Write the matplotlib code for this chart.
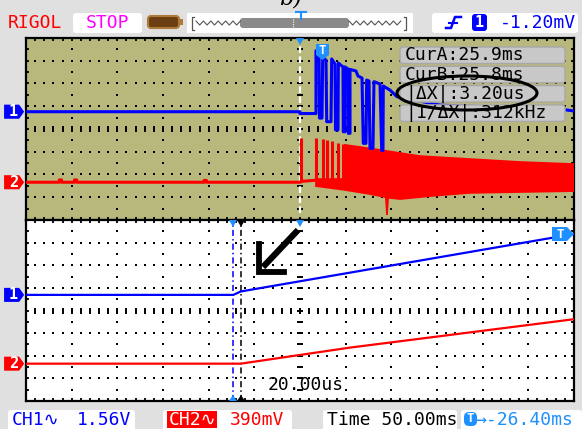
import numpy as np
import matplotlib
matplotlib.use('Agg')
from matplotlib import pyplot as plt
from matplotlib.patches import FancyBboxPatch, Polygon, Ellipse


W, H = 582, 429
X0, X1 = 26, 574            # screen left / right edge (px)
Y_TOP, Y_MID, Y_BOT = 38, 220, 401

# ---- main window, in divisions (12 x 8) ----
ch1_main_x = [-6, 0, 0, 0.35, 0.35, 0.416, 0.427, 0.482, 0.497, 0.569, 0.585, 0.679,
              0.694, 0.766, 0.777, 0.832, 0.839, 0.942, 0.948, 0.985, 0.985, 1.051,
              1.058, 1.095, 1.095, 1.226, 1.270, 1.358, 1.386, 1.445, 1.460, 1.511,
              1.533, 1.598, 1.620, 1.752, 1.789, 1.817, 1.824, 1.971, 2.124, 3.065,
              5.824, 6.0]
ch1_main_y = [0.76, 0.76, 0.68, 0.68, 3.44, 3.43, 0.48, 0.48, 3.16, 3.03, 0.32, 0.32,
              3.08, 2.86, -0.04, -0.04, 2.90, 2.73, -0.12, -0.12, 2.73, 2.64,
              -0.19, -0.19, 2.62, 2.55, 2.33, 2.24, -0.63, -0.63, 2.15, 2.11,
              -0.85, -0.85, 2.08, 1.98, -0.95, -0.95, 1.89, 1.71, 1.42, 1.05,
              0.84, 0.79]

ch2_main_x = [-6, -5.27, -5.27, -5.22, -5.22, -4.94, -4.94, -4.89, -4.89, -2.10, -2.10,
              -2.05, -2.05, 0, 0.05, 0.35]
ch2_main_y = [-2.34, -2.34, -2.24, -2.24, -2.34, -2.34, -2.24, -2.24, -2.34, -2.34, -2.26,
              -2.26, -2.34, -2.34, -2.30, -2.25]
ch2_spike_x = [0.02, 0.35, 0.497, 0.585, 0.694, 0.832, 0.94]
ch2_spike_top = [-0.40, -0.40, -0.44, -0.48, -0.53, -0.62, -0.66]
ch2_upper_x = [0.35, 0.96, 0.985, 1.31, 1.75, 2.63, 3.72, 4.82, 6.0]
ch2_upper_y = [-2.2, -2.2, -0.70, -0.79, -0.92, -1.19, -1.32, -1.45, -1.54]
ch2_lower_x = [0.35, 0.985, 1.53, 1.88, 1.905, 1.93, 2.19, 2.85, 3.72, 4.82, 6.0]
ch2_lower_y = [-2.51, -2.68, -2.86, -3.0, -3.78, -3.02, -3.08, -2.95, -2.81, -2.77, -2.73]

# ---- delayed (zoomed) window ----
ch1_zoom_x = [-6, -1.46, -1.30, 6.0]
ch1_zoom_y = [0.69, 0.69, 0.84, 3.38]
ch2_zoom_x = [-6, -1.30, 1.095, 5.98]
ch2_zoom_y = [-2.35, -2.35, -1.64, -0.39]
cur_a, cur_b = -1.46, -1.30

cursor_lines = ['CurA:25.9ms', 'CurB:25.8ms', '|\u0394X|:3.20us', '|1/\u0394X|:312kHz']

OLIVE = '#b8b87c'
GREY = '#e0e0e0'
BLUE = '#0000ff'
RED = '#ff0000'
MONO = ['DejaVu Sans Mono', 'DejaVu Sans']
FS = 13

fig = plt.figure(figsize=(W / 100, H / 100), dpi=100, facecolor=GREY)

bg = fig.add_axes([0, 0, 1, 1], zorder=0)
bg.set_xlim(0, W)
bg.set_ylim(H, 0)
bg.axis('off')


def rbox(ax, x, y, w, h, fc, ec='none', r=3, lw=1, z=1):
    ax.add_patch(FancyBboxPatch((x, y), w, h, boxstyle='round,pad=0,rounding_size=%g' % r,
                                fc=fc, ec=ec, lw=lw, zorder=z))


def grid(ax):
    fx = np.arange(-6, 6.001, 0.2)
    hy = np.arange(-4, 4.001, 0.5)
    for r in range(-3, 4):
        if r == 0:
            ax.plot(fx, np.zeros_like(fx), ls='none', marker='|', ms=4.3, mew=1.4, color='k', zorder=1)
        else:
            ax.plot(fx, np.full_like(fx, r), ls='none', marker='s', ms=1.5, mew=0, color='k', zorder=1)
    for c in range(-5, 6):
        if c == 0:
            ax.plot(np.zeros_like(hy), hy, ls='none', marker='_', ms=4.3, mew=1.4, color='k', zorder=1)
        else:
            ax.plot(np.full_like(hy, c), hy, ls='none', marker='s', ms=1.5, mew=0, color='k', zorder=1)
    for yy in (-4, 4):
        ax.plot(fx, np.full_like(fx, yy), ls='none', marker='|', ms=5, mew=1.3, color='k', zorder=1)
    for xx in (-6, 6):
        ax.plot(np.full_like(hy, xx), hy, ls='none', marker='_', ms=5, mew=1.3, color='k', zorder=1)


def panel(y0, y1, color):
    ax = fig.add_axes([X0 / W, 1 - y1 / H, (X1 - X0) / W, (y1 - y0) / H], zorder=1)
    ax.set_xlim(-6, 6)
    ax.set_ylim(-4, 4)
    ax.set_facecolor(color)
    ax.set_xticks([])
    ax.set_yticks([])
    for s in ax.spines.values():
        s.set_linewidth(1.6)
        s.set_color('k')
    grid(ax)
    return ax


def ch_marker(ax, y, label, color):
    ax.add_patch(Polygon([(-6.48, y - 0.31), (-6.15, y - 0.31), (-6.04, y),
                          (-6.15, y + 0.31), (-6.48, y + 0.31)],
                         closed=True, fc=color, ec='none', clip_on=False, zorder=5))
    ax.text(-6.28, y, label, color='white', fontsize=11, fontweight='bold',
            ha='center', va='center', family=MONO, clip_on=False, zorder=6)


# main window
top = panel(Y_TOP, Y_MID, OLIVE)
top.axvline(0, ymin=0.04, ymax=0.99, color='white', lw=1.6, ls=(0, (3, 1.5)), zorder=2)
top.plot(ch2_main_x, ch2_main_y, color=RED, lw=2.2, zorder=3)
top.vlines(ch2_spike_x, -2.3, ch2_spike_top, color=RED, lw=2.2, zorder=3)
top.fill(ch2_upper_x + ch2_lower_x[::-1], ch2_upper_y + ch2_lower_y[::-1],
         color=RED, lw=1.2, zorder=3)
top.plot(ch1_main_x, ch1_main_y, color=BLUE, lw=2.2, zorder=4)
ch_marker(top, ch1_main_y[0], '1', BLUE)
ch_marker(top, ch2_main_y[0], '2', RED)

# delayed window
bot = panel(Y_MID, Y_BOT, 'white')
bot.axvline(cur_a, color=BLUE, lw=1.1, ls=(0, (4, 2, 1, 2)), zorder=2)
bot.axvline(cur_b, color='k', lw=1.1, ls=(0, (4, 2, 1, 2)), zorder=2)
bot.plot(ch2_zoom_x, ch2_zoom_y, color=RED, lw=1.6, zorder=3)
bot.plot(ch1_zoom_x, ch1_zoom_y, color=BLUE, lw=1.6, zorder=4)
bot.text(-0.7, -3.3, '20.00us', family=MONO, fontsize=FS, ha='left', va='center', zorder=5)
ch_marker(bot, ch1_zoom_y[0], '1', BLUE)
ch_marker(bot, ch2_zoom_y[0], '2', RED)

# overlay: markers, cursor readout, annotations
fg = fig.add_axes([0, 0, 1, 1], zorder=3)
fg.set_xlim(0, W)
fg.set_ylim(H, 0)
fg.axis('off')
fg.patch.set_alpha(0)

fg.add_patch(Polygon([(296, 38), (304, 38), (300, 45)], fc='#1e90ff', ec='none'))
fg.add_patch(Polygon([(296, 220), (304, 220), (300, 227)], fc='#1e90ff', ec='none'))
fg.add_patch(Polygon([(229, 220), (237, 220), (233, 227)], fc='#1e90ff', ec='none'))
fg.add_patch(Polygon([(237, 220), (245, 220), (241, 227)], fc='k', ec='none'))
fg.add_patch(Polygon([(229, 401), (237, 401), (233, 395)], fc='#1e90ff', ec='none'))
fg.add_patch(Polygon([(237, 401), (245, 401), (241, 395)], fc='k', ec='none'))

# trigger markers
fg.add_patch(Polygon([(316, 44), (329, 44), (329, 55), (322.5, 60), (316, 55)], fc='#1e90ff', ec='none'))
fg.text(322.5, 51, 'T', color='white', fontsize=9, fontweight='bold', ha='center', va='center', family=MONO)
fg.add_patch(Polygon([(552, 227), (567, 227), (574, 234), (567, 241), (552, 241)], fc='#1e90ff', ec='none'))
fg.text(560, 234, 'T', color='white', fontsize=9, fontweight='bold', ha='center', va='center', family=MONO)

for i, s in enumerate(cursor_lines):
    y = 47 + i * 19.3
    rbox(fg, 400, y, 165, 16.5, '#c8c8c8', ec='#a8a8a8', r=3, lw=1)
    fg.text(405, y + 8.5, s, family=MONO, fontsize=FS, ha='left', va='center', color='k')
fg.add_patch(Ellipse((467, 93), 140, 34, fill=False, ec='k', lw=2.2))

# arrow pointing at the edge
fg.plot([298, 263], [230, 267], color='k', lw=4.5, solid_capstyle='butt')
fg.plot([258.5, 258.5, 284], [244, 271.5, 271.5], color='k', lw=4.2, solid_joinstyle='miter')

# ---- top status bar ----
bg.text(8, 23, 'RIGOL', color=RED, family=MONO, fontsize=FS, ha='left', va='center')
rbox(bg, 73, 13, 69, 20, 'white', r=3)
bg.text(107.5, 23, 'STOP', color='#ff00ff', family=MONO, fontsize=FS, ha='center', va='center')
rbox(bg, 148, 16, 31, 12, '#6b3f12', ec='#b07b3a', r=3, lw=1.5)
bg.add_patch(FancyBboxPatch((179, 19), 4, 6, boxstyle='square,pad=0', fc='#b07b3a', ec='none'))

bg.add_patch(FancyBboxPatch((187, 13), 226, 20, boxstyle='square,pad=0', fc='white', ec='none'))
zx = np.arange(196, 241, 3.7)
bg.plot(zx, np.where(np.arange(len(zx)) % 2 == 0, 21, 25), color='#555555', lw=0.8)
zx = np.arange(349, 404, 3.7)
bg.plot(zx, np.where(np.arange(len(zx)) % 2 == 0, 21, 25), color='#555555', lw=0.8)
bg.plot([194, 192, 192, 194], [17, 17, 30, 30], color='#555555', lw=0.9)
bg.plot([404, 406, 406, 404], [17, 17, 30, 30], color='#555555', lw=0.9)
rbox(bg, 240, 18, 109, 10, '#8a8a8a', r=3)
bg.plot([293, 293], [19, 27], color='white', lw=0.8, ls=(0, (1, 1)))
bg.plot([296, 306], [12, 12], color='#1e90ff', lw=1.5)
bg.plot([301, 301], [12, 19], color='#1e90ff', lw=1.5)
bg.text(290, 5, 'b)', family='DejaVu Serif', style='italic', fontsize=16,
        ha='center', va='baseline', color='k')

rbox(bg, 432, 13, 146, 20, 'white', r=3)
bg.plot([446, 451, 455, 461], [28, 28, 17, 17], color=BLUE, lw=1.8)
bg.plot([449, 457], [22.5, 22.5], color=BLUE, lw=1.5)
rbox(bg, 472, 14, 15, 17, BLUE, r=3)
bg.text(479.5, 22.5, '1', color='white', family=MONO, fontsize=11, fontweight='bold',
        ha='center', va='center')
bg.text(500, 23, '-1.20mV', color=BLUE, family=MONO, fontsize=FS, ha='left', va='center')

# ---- bottom status bar ----
rbox(bg, 8, 410, 127, 22, 'white', r=3)
bg.text(12, 420, 'CH1\u223f', color=BLUE, family=MONO, fontsize=FS, ha='left', va='center')
bg.text(77, 420, '1.56V', color=BLUE, family=MONO, fontsize=FS, ha='left', va='center')
rbox(bg, 163, 410, 129, 22, 'white', r=3)
bg.add_patch(FancyBboxPatch((167, 411), 50, 17, boxstyle='square,pad=0', fc=RED, ec='none'))
bg.text(169, 420, 'CH2\u223f', color='white', family=MONO, fontsize=FS, ha='left', va='center')
bg.text(230, 420, '390mV', color=RED, family=MONO, fontsize=FS, ha='left', va='center')
rbox(bg, 323, 410, 134, 22, 'white', r=3)
bg.text(327, 420, 'Time 50.00ms', color='k', family=MONO, fontsize=FS, ha='left', va='center')
rbox(bg, 461, 410, 121, 22, 'white', r=3)
rbox(bg, 464, 412, 13, 14, '#1e90ff', r=5)
bg.text(470.5, 419, 'T', color='white', family=MONO, fontsize=9, fontweight='bold',
        ha='center', va='center')
bg.text(475, 420, '\u2192-26.40ms', color='#1e90ff', family=MONO, fontsize=FS,
        ha='left', va='center')

fig.savefig('out.png', dpi=100, facecolor=GREY)
